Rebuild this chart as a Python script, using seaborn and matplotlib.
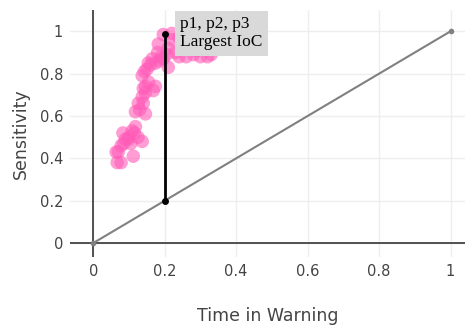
import numpy as np
import pandas as pd
import matplotlib
matplotlib.use("Agg")
import matplotlib.pyplot as plt
import seaborn as sns

# pink cloud of (time in warning, sensitivity) points
tiw = [0.067, 0.078, 0.064, 0.070, 0.078, 0.085, 0.090, 0.098, 0.083, 0.100,
       0.105, 0.112, 0.109, 0.118, 0.115, 0.137, 0.125, 0.118, 0.126, 0.130,
       0.146, 0.137, 0.140, 0.146, 0.168, 0.140, 0.146, 0.155, 0.137, 0.143,
       0.150, 0.154, 0.160, 0.174, 0.165, 0.185, 0.196, 0.210, 0.174, 0.180,
       0.182, 0.196, 0.220, 0.210, 0.230, 0.240, 0.260, 0.280, 0.300, 0.320,
       0.330, 0.250, 0.240, 0.270, 0.290, 0.220, 0.205, 0.190]
sens = [0.38, 0.38, 0.43, 0.43, 0.46, 0.47, 0.49, 0.49, 0.52, 0.50,
        0.47, 0.41, 0.53, 0.55, 0.52, 0.48, 0.50, 0.62, 0.66, 0.63,
        0.61, 0.69, 0.66, 0.71, 0.72, 0.73, 0.74, 0.76, 0.79, 0.81,
        0.82, 0.85, 0.84, 0.85, 0.87, 0.86, 0.87, 0.83, 0.74, 0.90,
        0.94, 0.985, 0.96, 0.92, 0.90, 0.88, 0.88, 0.89, 0.88, 0.88,
        0.89, 0.93, 0.97, 0.92, 0.91, 0.99, 0.89, 0.88]

diag_x = [0, 1]
diag_y = [0, 1]
ioc_x = [0.2, 0.2]
ioc_y = [0.2, 0.985]
ticks = [0, 0.2, 0.4, 0.6, 0.8, 1]
tick_labels = ["0", "0.2", "0.4", "0.6", "0.8", "1"]

sns.set_style("white")
plt.rcParams['font.family'] = ['DejaVu Sans']

fig = plt.figure(figsize=(4.7, 3.27), dpi=100)
ax = fig.add_axes([0.149, 0.214, 0.84, 0.755])

pts = pd.DataFrame({"tiw": tiw, "sens": sens})
sns.scatterplot(data=pts, x="tiw", y="sens", ax=ax, s=95, color="#ff5cb8",
                alpha=0.6, edgecolor="none", zorder=3)

sns.lineplot(x=diag_x, y=diag_y, ax=ax, color="#808080", lw=1.5, marker="o",
             markersize=4, markeredgewidth=0, zorder=4)
sns.lineplot(x=ioc_x, y=ioc_y, ax=ax, color="black", lw=2, marker="o",
             markersize=5, markeredgewidth=0, zorder=5, orient="y")

ax.axhline(0, color="#444444", lw=1.3, zorder=2)
ax.axvline(0, color="#444444", lw=1.3, zorder=2)

ax.text(0.243, 1.072, "p1, p2, p3\nLargest IoC", va="top", ha="left",
        family="Liberation Serif", fontsize=12.5, color="black", zorder=6,
        linespacing=1.2,
        bbox=dict(facecolor="#d9d9d9", edgecolor="none", pad=4))

ax.set_xlim(-0.065, 1.04)
ax.set_ylim(-0.066, 1.10)
ax.set_xticks(ticks)
ax.set_xticklabels(tick_labels)
ax.set_yticks(ticks)
ax.set_yticklabels(tick_labels)
ax.grid(True, color="#eeeeee", lw=1)
ax.tick_params(length=0, labelsize=10.5, labelcolor="#444444", pad=5)
for sp in ax.spines.values():
    sp.set_visible(False)

ax.set_xlabel("Time in Warning", fontsize=12.5, color="#444444", labelpad=20)
ax.set_ylabel("Sensitivity", fontsize=12.5, color="#444444", labelpad=7)

fig.savefig("out.png", dpi=100)
